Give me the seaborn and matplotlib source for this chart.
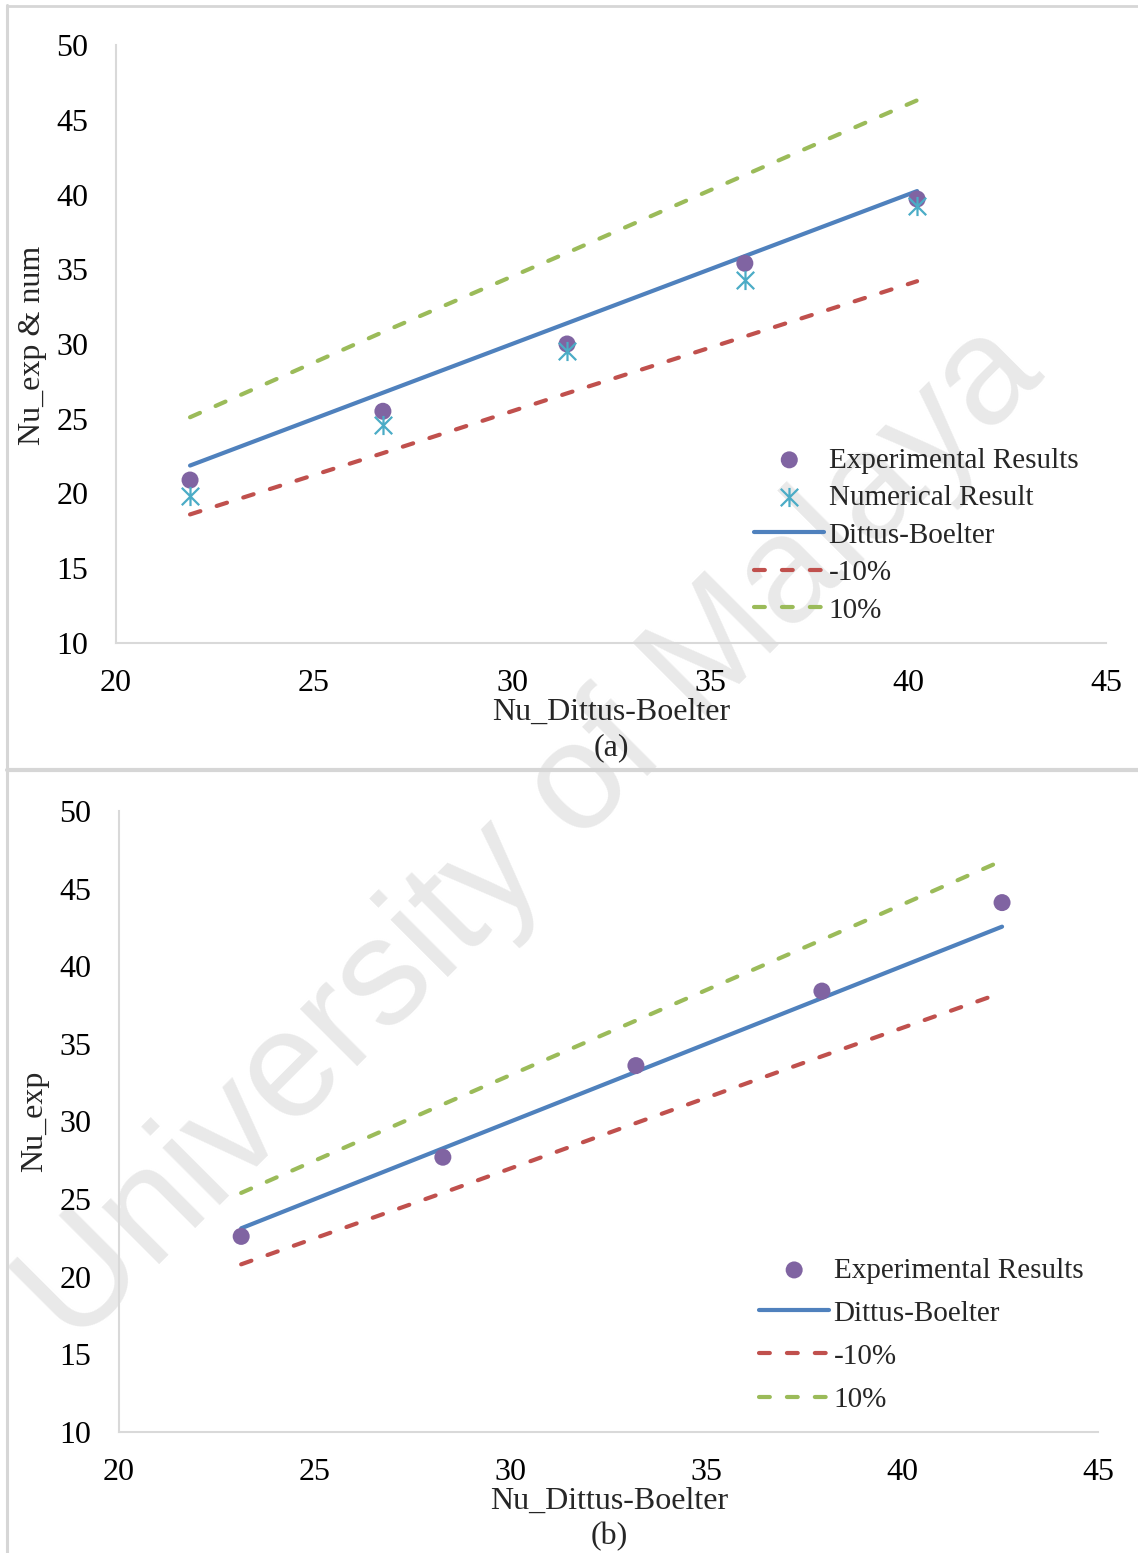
import matplotlib
matplotlib.use("Agg")
import matplotlib.pyplot as plt
import seaborn as sns
import pandas as pd
from matplotlib.lines import Line2D
from matplotlib.path import Path

# ---------------- data: panel (a) ----------------
a_x = [21.87, 26.74, 31.39, 35.88, 40.23]
a_exp = [20.9, 25.5, 30.0, 35.4, 39.7]
a_num = [19.8, 24.6, 29.5, 34.3, 39.2]
a_db = [21.87, 26.74, 31.39, 35.88, 40.23]
a_minus = [18.6, 22.7, 26.7, 30.5, 34.2]
a_plus = [25.1, 30.8, 36.1, 41.3, 46.3]

# ---------------- data: panel (b) ----------------
b_x = [23.12, 28.27, 33.20, 37.95, 42.55]
b_exp = [22.6, 27.7, 33.6, 38.4, 44.1]
b_db = [23.12, 28.27, 33.20, 37.95, 42.55]
b_minus = [20.8, 25.4, 29.9, 34.2, 38.3]
b_plus = [25.4, 31.1, 36.5, 41.7, 46.8]

x_ticks = [20, 25, 30, 35, 40, 45]
y_ticks = [10, 15, 20, 25, 30, 35, 40, 45, 50]

sns.set_theme(style="white")
plt.rcParams['font.family'] = ['Liberation Serif', 'DejaVu Serif']

PURPLE = "#8064A2"
CYAN = "#4BACC6"
BLUE = "#4F81BD"
RED = "#C0504D"
GREEN = "#9BBB59"
GRID = "#d9d9d9"
FS = 23      # ticks / axis labels
LFS = 21     # legend

STAR = Path([(-1, -1), (1, 1), (-1, 1), (1, -1), (0, -1.1), (0, 1.1)],
            [Path.MOVETO, Path.LINETO, Path.MOVETO, Path.LINETO,
             Path.MOVETO, Path.LINETO])

fig = plt.figure(figsize=(11.38, 15.53), dpi=100)

# watermark
fig.text(0.468, 0.462, "University of Malaya", fontsize=110, color="#e9e9e9",
         rotation=45, ha="center", va="center", family="Liberation Sans",
         zorder=-1)

# panel borders
bc = "#d6d6d6"
fig.add_artist(Line2D([7/1138, 7/1138], [0, 1 - 5/1553], color=bc, lw=2.2,
                      transform=fig.transFigure))
fig.add_artist(Line2D([7/1138, 1], [1 - 6/1553, 1 - 6/1553], color=bc, lw=2,
                      transform=fig.transFigure))
fig.add_artist(Line2D([7/1138, 1], [1 - 770/1553, 1 - 770/1553], color=bc, lw=3,
                      transform=fig.transFigure))

dash = (0, (2.6, 4.1))


def style_ax(ax):
    ax.set_facecolor("none")
    ax.set_xlim(20, 45)
    ax.set_ylim(10, 50)
    ax.set_xticks(x_ticks)
    ax.set_yticks(y_ticks)
    for s in ["top", "right"]:
        ax.spines[s].set_visible(False)
    for s in ["left", "bottom"]:
        ax.spines[s].set_color(GRID)
        ax.spines[s].set_linewidth(1.5)
    ax.tick_params(axis="both", length=0, labelsize=FS, colors="black")
    ax.tick_params(axis="y", pad=20)
    ax.tick_params(axis="x", pad=19)
    ax.grid(False)
    ax.set_xlabel("")
    ax.set_ylabel("")


# ---------------- panel (a) ----------------
ax1 = fig.add_axes([116/1138, 1 - 643/1553, 990/1138, 598/1553])
dfa = pd.DataFrame({"x": a_x, "exp": a_exp, "num": a_num, "db": a_db,
                    "minus": a_minus, "plus": a_plus})
sns.scatterplot(data=dfa, x="x", y="exp", ax=ax1, color=PURPLE, s=150,
                edgecolor="none", label="Experimental Results", zorder=4)
sns.scatterplot(data=dfa, x="x", y="num", ax=ax1, color=CYAN, edgecolor=CYAN,
                s=190, marker=STAR, linewidth=1.6, label="Numerical Result",
                zorder=4)
sns.lineplot(data=dfa, x="x", y="db", ax=ax1, color=BLUE, lw=3,
             label="Dittus-Boelter", solid_capstyle="round", zorder=3)
sns.lineplot(data=dfa, x="x", y="minus", ax=ax1, color=RED, lw=3,
             linestyle=dash, dash_capstyle="round", label="-10%", zorder=3)
sns.lineplot(data=dfa, x="x", y="plus", ax=ax1, color=GREEN, lw=3,
             linestyle=dash, dash_capstyle="round", label="10%", zorder=3)
style_ax(ax1)
ax1.legend(loc="upper left", bbox_to_anchor=(0.630, 0.352), frameon=False,
           fontsize=LFS, handlelength=2.4, handletextpad=0.15,
           labelspacing=0.38, borderpad=0, scatterpoints=1)
fig.text(611/1138, 1 - 712/1553, "Nu_Dittus-Boelter", fontsize=FS,
         ha="center", va="center")
fig.text(611/1138, 1 - 748/1553, "(a)", fontsize=FS, ha="center", va="center")
fig.text(33/1138, 1 - 345/1553, "Nu_exp & num", fontsize=FS, rotation=90,
         ha="center", va="center")

# ---------------- panel (b) ----------------
ax2 = fig.add_axes([119/1138, 1 - 1432/1553, 979/1138, 621/1553])
dfb = pd.DataFrame({"x": b_x, "exp": b_exp, "db": b_db,
                    "minus": b_minus, "plus": b_plus})
sns.scatterplot(data=dfb, x="x", y="exp", ax=ax2, color=PURPLE, s=150,
                edgecolor="none", label="Experimental Results", zorder=4)
sns.lineplot(data=dfb, x="x", y="db", ax=ax2, color=BLUE, lw=3,
             label="Dittus-Boelter", solid_capstyle="round", zorder=3)
sns.lineplot(data=dfb, x="x", y="minus", ax=ax2, color=RED, lw=3,
             linestyle=dash, dash_capstyle="round", label="-10%", zorder=3)
sns.lineplot(data=dfb, x="x", y="plus", ax=ax2, color=GREEN, lw=3,
             linestyle=dash, dash_capstyle="round", label="10%", zorder=3)
style_ax(ax2)
ax2.legend(loc="upper left", bbox_to_anchor=(0.639, 0.305), frameon=False,
           fontsize=LFS, handlelength=2.4, handletextpad=0.15,
           labelspacing=0.57, borderpad=0, scatterpoints=1)
fig.text(609/1138, 1 - 1501/1553, "Nu_Dittus-Boelter", fontsize=FS,
         ha="center", va="center")
fig.text(609/1138, 1 - 1537/1553, "(b)", fontsize=FS, ha="center", va="center")
fig.text(35/1138, 1 - 1121/1553, "Nu_exp", fontsize=FS, rotation=90,
         ha="center", va="center")

fig.savefig("out.png", dpi=100)
